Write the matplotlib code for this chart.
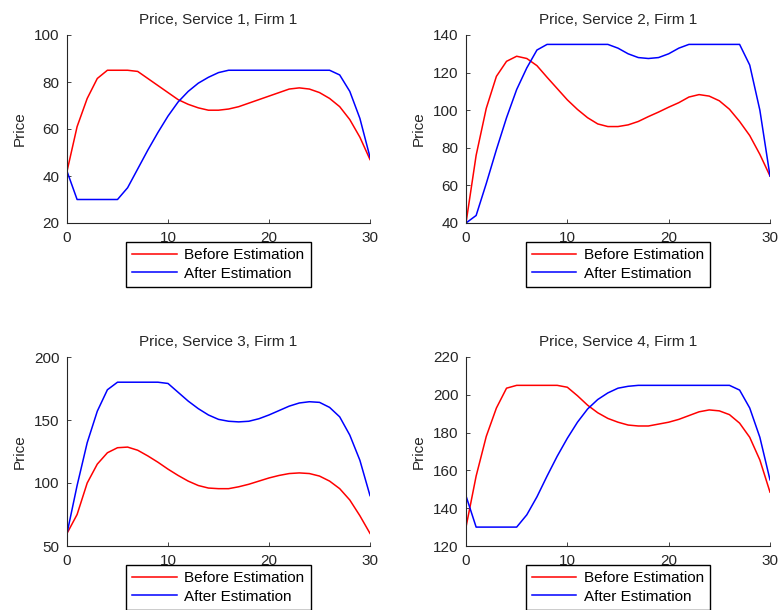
import matplotlib
matplotlib.use("Agg")
import matplotlib.pyplot as plt
import numpy as np

plt.rcParams['font.family'] = ['Liberation Sans', 'DejaVu Sans']

periods = list(range(31))

titles = ["Price, Service 1, Firm 1", "Price, Service 2, Firm 1",
          "Price, Service 3, Firm 1", "Price, Service 4, Firm 1"]

before_s1 = [42, 61, 73, 81.5, 85, 85, 85, 84.5, 81.5, 78.5, 75.5, 72.5, 70.5, 69, 68, 68,
             68.5, 69.5, 71, 72.5, 74, 75.5, 77, 77.5, 77, 75.5, 73, 69.5, 64, 56.5, 47]
after_s1 = [42, 30, 30, 30, 30, 30, 35, 43, 51, 58.5, 65.5, 71.5, 76, 79.5, 82, 84,
            85, 85, 85, 85, 85, 85, 85, 85, 85, 85, 85, 83, 76, 64.5, 48]

before_s2 = [40, 76, 101, 118, 126, 128.7, 127.5, 123.7, 117.5, 111.5, 105.5, 100.4, 96, 92.7, 91.3, 91.3,
             92.2, 94, 96.6, 99, 101.6, 104, 107, 108.3, 107.5, 105, 100.5, 94, 86.5, 76.5, 65]
after_s2 = [40, 44, 61, 79, 96, 111, 122.5, 132, 135, 135, 135, 135, 135, 135, 135, 133,
            130, 128, 127.5, 128, 130, 133, 135, 135, 135, 135, 135, 135, 124, 100, 65]

before_s3 = [60, 75, 100, 115, 124, 128, 128.5, 126, 121.5, 116.5, 111, 106, 101.5, 98, 96, 95.5,
             95.5, 97, 99, 101.5, 104, 106, 107.5, 108, 107.5, 105.5, 101.5, 95.5, 86.5, 74, 60]
after_s3 = [60, 98, 132, 157, 174, 180, 180, 180, 180, 180, 179, 172, 165, 159, 154, 150.5,
            149, 148.5, 149, 151, 154, 157.5, 161, 163.5, 164.5, 164, 160, 152.5, 138, 118, 90]

before_s4 = [130, 157, 178, 193, 203.5, 205, 205, 205, 205, 205, 204, 199.5, 194.5, 190.5, 187.5, 185.5,
             184, 183.5, 183.5, 184.5, 185.5, 187, 189, 191, 192, 191.5, 189.5, 185, 177.5, 165.5, 148.5]
after_s4 = [146.5, 130, 130, 130, 130, 130, 136.5, 146, 157, 167.5, 177, 185.5, 192.5, 197.5, 201, 203.5,
            204.5, 205, 205, 205, 205, 205, 205, 205, 205, 205, 205, 202.5, 193, 177.5, 155]

before_all = [before_s1, before_s2, before_s3, before_s4]
after_all = [after_s1, after_s2, after_s3, after_s4]
ylims = [(20, 100), (40, 140), (50, 200), (120, 220)]
yticks = [[20, 40, 60, 80, 100], [40, 60, 80, 100, 120, 140],
          [50, 100, 150, 200], [120, 140, 160, 180, 200, 220]]
xticks = [0, 10, 20, 30]
labels = ["Before Estimation", "After Estimation"]

W, H = 778, 610
fig = plt.figure(figsize=(W / 100, H / 100), dpi=100)

# pixel boxes (left, top, right, bottom)
boxes = [(67, 35, 370, 223), (466, 35, 770, 223), (67, 357, 370, 546), (466, 357, 770, 546)]

for i in range(4):
    l, t, r, b = boxes[i]
    ax = fig.add_axes([l / W, (H - b) / H, (r - l) / W, (b - t) / H])
    ax.plot(periods, before_all[i], color='#ff0000', lw=1.1, label=labels[0])
    ax.plot(periods, after_all[i], color='#0000ff', lw=1.1, label=labels[1])
    ax.set_xlim(0, 30)
    ax.set_ylim(*ylims[i])
    ax.set_xticks(xticks)
    ax.set_yticks(yticks[i])
    ax.spines['top'].set_visible(False)
    ax.spines['right'].set_visible(False)
    ax.tick_params(direction='in', labelsize=11, length=3, width=0.6, pad=5.5,
                   colors='#262626', labelcolor='#262626')
    for s in ['left', 'bottom']:
        ax.spines[s].set_linewidth(0.8)
        ax.spines[s].set_color('#262626')
    ax.set_title(titles[i], fontsize=11, pad=8, color='#262626')
    ax.set_ylabel("Price", fontsize=11, labelpad=5, color='#262626')
    ax.legend(loc='upper center', bbox_to_anchor=(0.5, -(242 - 223) / (b - t)),
              fontsize=11, frameon=True, fancybox=False, framealpha=1,
              edgecolor='black', handlelength=2.9, borderpad=0.4,
              labelspacing=0.3, handletextpad=0.5, borderaxespad=0)

fig.savefig("out.png", dpi=100)
